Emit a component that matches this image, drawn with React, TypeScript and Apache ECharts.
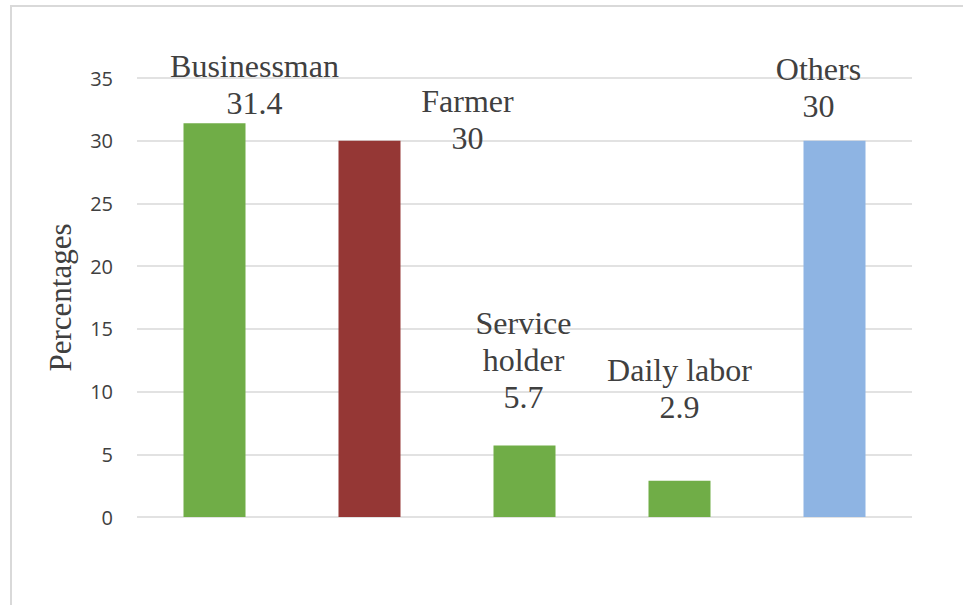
import React, { useEffect, useRef } from "react";
import * as echarts from "echarts";

const categories = ["Businessman", "Farmer", "Service holder", "Daily labor", "Others"];
const labelTexts = ["Businessman", "Farmer", "Service\nholder", "Daily labor", "Others"];
const values = [31.4, 30, 5.7, 2.9, 30];
const barColors = ["#70AD47", "#953735", "#70AD47", "#70AD47", "#8EB4E3"];
const labelOffsets: [number, number][] = [
  [40, -2],
  [98, 16],
  [-1, -30],
  [0, -55],
  [-16, -16],
];
const yTicks = { min: 0, max: 35, interval: 5 };
const yAxisName = "Percentages";

export default function App() {
  const ref = useRef<HTMLDivElement>(null);
  useEffect(() => {
    if (!ref.current) return;
    const chart = echarts.init(ref.current, undefined, { renderer: "svg" });
    const serif = "Liberation Serif";
    chart.setOption({
      animation: false,
      backgroundColor: "#ffffff",
      graphic: [
        {
          type: "rect",
          shape: { x: 11, y: 6, width: 1000, height: 700 },
          style: { fill: "none", stroke: "#d9d9d9", lineWidth: 2 },
          silent: true,
        },
      ],
      grid: { left: 137, right: 51, top: 78, bottom: 88 },
      xAxis: {
        type: "category",
        data: categories,
        axisLine: { show: false },
        axisTick: { show: false },
        axisLabel: { show: false },
      },
      yAxis: {
        type: "value",
        min: yTicks.min,
        max: yTicks.max,
        interval: yTicks.interval,
        name: yAxisName,
        nameLocation: "middle",
        nameGap: 61,
        nameTextStyle: { fontFamily: serif, fontSize: 31, color: "#404040" },
        axisLine: { show: false },
        axisTick: { show: false },
        axisLabel: {
          fontFamily: "Open Sans",
          fontSize: 20,
          color: "#404040",
          margin: 24,
        },
        splitLine: { lineStyle: { color: "#d9d9d9", width: 1.5 } },
      },
      series: [
        {
          type: "bar",
          barWidth: "40%",
          label: {
            show: true,
            position: "top",
            distance: 0,
            fontFamily: serif,
            fontSize: 32,
            color: "#404040",
            align: "center",
            lineHeight: 37,
          },
          data: values.map((v, i) => ({
            value: v,
            itemStyle: { color: barColors[i] },
            label: {
              offset: labelOffsets[i],
              formatter: labelTexts[i] + "\n{c}",
            },
          })),
        },
      ],
    });
    return () => chart.dispose();
  }, []);
  return (
    <div
      ref={ref}
      style={{ position: "fixed", left: 0, top: 0, width: 963, height: 605 }}
    />
  );
}
